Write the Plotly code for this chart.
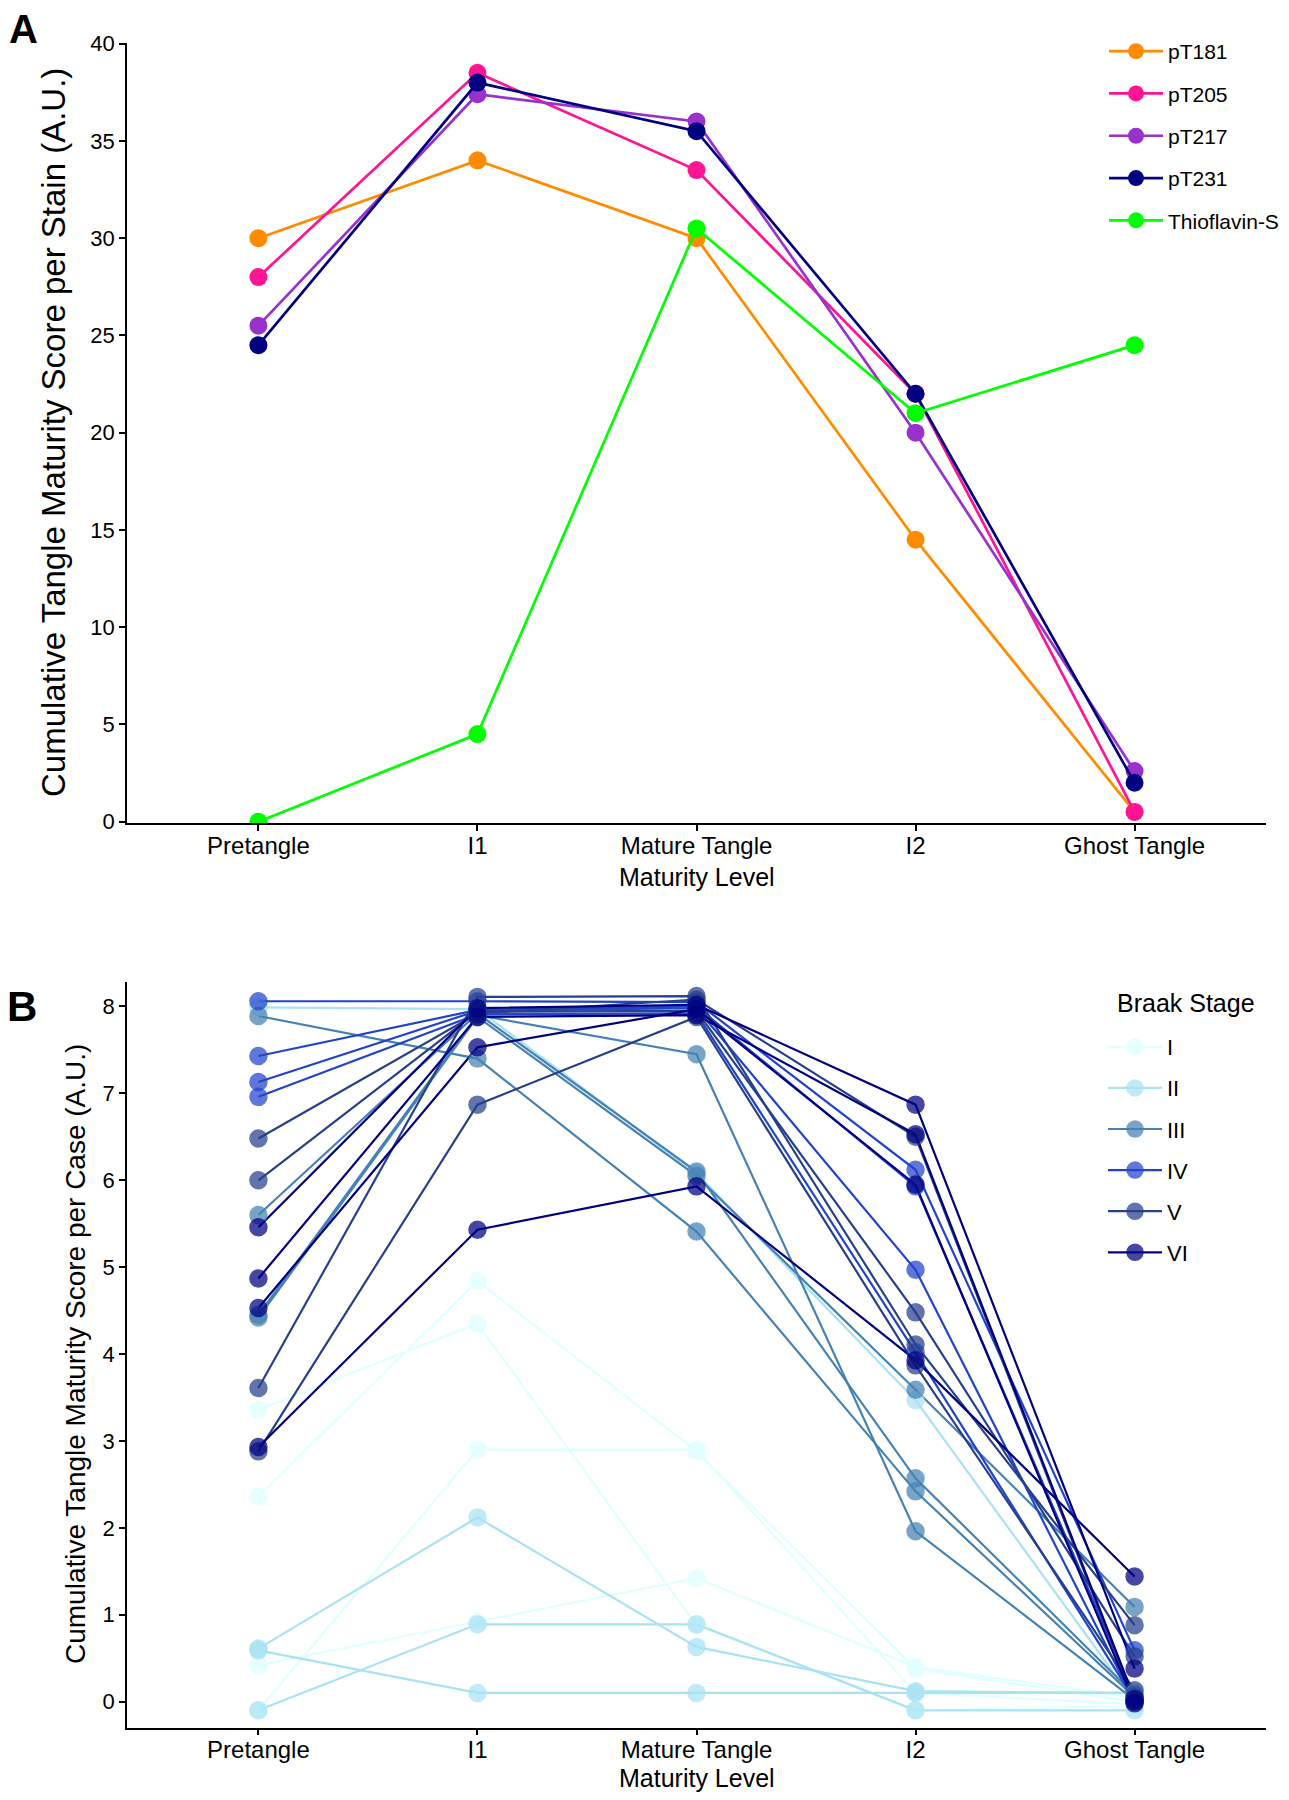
import plotly.graph_objects as go

# ---------------- data ----------------
levels = ["Pretangle", "I1", "Mature Tangle", "I2", "Ghost Tangle"]

stains = ["pT181", "pT205", "pT217", "pT231", "Thioflavin-S"]
pT181 = [30.0, 34.0, 30.0, 14.5, 0.5]
pT205 = [28.0, 38.5, 33.5, 22.0, 0.5]
pT217 = [25.5, 37.4, 36.0, 20.0, 2.6]
pT231 = [24.5, 38.0, 35.5, 22.0, 2.0]
thioflavin_s = [0.0, 4.5, 30.5, 21.0, 24.5]
stain_colors = ["#FF8C00", "#FF1493", "#9932CC", "#000080", "#00FF00"]

braak_stages = ["I", "II", "III", "IV", "V", "VI"]
braak_colors = ["#E0FFFF", "#A9E2F3", "#4682B4", "#2244CC", "#27408B", "#000080"]

case_stage = ["I", "I", "I", "I",
              "II", "II", "II", "II",
              "III", "III", "III", "III",
              "IV", "IV", "IV", "IV",
              "V", "V", "V", "V",
              "VI", "VI", "VI", "VI"]
case_pretangle = [3.36, 2.36, 0.42, -0.10,
                  7.99, 0.61, 0.59, -0.10,
                  7.89, 5.60, 4.45, 4.42,
                  8.06, 7.43, 7.13, 6.96,
                  6.48, 6.00, 3.61, 2.88,
                  5.46, 4.87, 4.53, 2.93]
case_i1 = [4.35, 4.84, 0.92, 2.90,
           7.97, 2.12, 0.10, 0.89,
           7.40, 7.92, 7.90, 7.88,
           8.06, 7.96, 7.95, 7.91,
           7.92, 7.94, 8.11, 6.87,
           7.98, 7.88, 7.53, 5.43]
case_mature = [0.88, 2.88, 1.42, 2.90,
               6.08, 0.63, 0.10, 0.89,
               5.41, 6.10, 7.45, 6.05,
               8.05, 8.00, 7.98, 7.92,
               8.08, 7.95, 8.12, 7.88,
               8.02, 7.90, 7.97, 5.93]
case_i2 = [-0.10, 0.38, 0.40, 0.10,
           3.47, 0.12, 0.10, -0.10,
           2.42, 2.57, 1.96, 3.59,
           6.12, 5.93, 4.97, 4.02,
           6.50, 4.48, 4.11, 3.87,
           6.87, 6.53, 5.95, 3.93]
case_ghost = [-0.05, 0.00, 0.05, -0.03,
              0.00, 0.10, 0.10, -0.10,
              0.05, 0.08, 0.02, 1.09,
              0.59, 0.05, 0.00, 0.02,
              0.00, 0.52, 0.88, 0.13,
              0.38, 0.03, -0.02, 1.44]

# ---------------- geometry (figure px; page has 8px body margin) ----------------
W, H = 1273, 1784
FONT = "Liberation Sans, Arial, Helvetica, sans-serif"


def px_x(p):
    return p / W


def px_y(p):
    return 1 - p / H


fig = go.Figure()

# Panel A
stain_values = [pT181, pT205, pT217, pT231, thioflavin_s]
for name, vals, col in zip(stains, stain_values, stain_colors):
    fig.add_trace(go.Scatter(
        x=levels, y=vals, mode="lines+markers", name=name,
        line=dict(color=col, width=2.7),
        marker=dict(color=col, size=18),
        xaxis="x", yaxis="y", legend="legend", legendgroup=name,
        hoverinfo="skip"))

# Panel B: lines first, then points
stage_color = dict(zip(braak_stages, braak_colors))
cases = list(zip(case_stage, case_pretangle, case_i1, case_mature, case_i2, case_ghost))
for st, *vals in cases:
    fig.add_trace(go.Scatter(
        x=levels, y=vals, mode="lines", showlegend=False,
        line=dict(color=stage_color[st], width=2.2),
        xaxis="x2", yaxis="y2", hoverinfo="skip"))
for st, *vals in cases:
    fig.add_trace(go.Scatter(
        x=levels, y=vals, mode="markers", showlegend=False,
        marker=dict(color=stage_color[st], size=17, opacity=0.72,
                    line=dict(color=stage_color[st], width=1.5)),
        xaxis="x2", yaxis="y2", hoverinfo="skip"))
# legend entries for Braak stage
for st in braak_stages:
    fig.add_trace(go.Scatter(
        x=[None], y=[None], mode="lines+markers", name=st,
        line=dict(color=stage_color[st], width=2.2),
        marker=dict(color=stage_color[st], size=17, opacity=0.72,
                    line=dict(color=stage_color[st], width=1.5)),
        xaxis="x2", yaxis="y2", legend="legend2", legendgroup=st,
        hoverinfo="skip"))

xdom = [px_x(119), px_x(1258)]
axis_common = dict(showline=True, linecolor="black", linewidth=1.5,
                   ticks="outside", ticklen=6, tickwidth=1.5, tickcolor="black",
                   showgrid=False, zeroline=False, automargin=False)

fig.update_layout(
    template="none",
    width=W, height=H,
    margin=dict(l=0, r=0, t=0, b=0, pad=0, autoexpand=False),
    paper_bgcolor="white", plot_bgcolor="white",
    font=dict(family=FONT, color="black"),
    xaxis=dict(domain=xdom, anchor="y", type="category", range=[-0.6, 4.6],
               tickfont=dict(size=24), ticklabelstandoff=-6, **axis_common),
    yaxis=dict(domain=[px_y(815), px_y(34.7)], anchor="x", range=[-0.07, 40.05],
               tickvals=[0, 5, 10, 15, 20, 25, 30, 35, 40],
               tickfont=dict(size=22), **axis_common),
    xaxis2=dict(domain=xdom, anchor="y2", type="category", range=[-0.6, 4.6],
                tickfont=dict(size=24), ticklabelstandoff=-6, **axis_common),
    yaxis2=dict(domain=[px_y(1719.7), px_y(973.7)], anchor="x2", range=[-0.30, 8.285],
                tickvals=[0, 1, 2, 3, 4, 5, 6, 7, 8],
                tickfont=dict(size=22), **axis_common),
    legend=dict(x=px_x(1096), y=px_y(23), xanchor="left", yanchor="top",
                font=dict(size=21), tracegroupgap=12, bgcolor="rgba(0,0,0,0)",
                itemsizing="trace", itemwidth=54, borderwidth=0),
    legend2=dict(x=px_x(1095), y=px_y(1018), xanchor="left", yanchor="top",
                 font=dict(size=22), tracegroupgap=9.5, bgcolor="rgba(0,0,0,0)",
                 itemsizing="trace", itemwidth=54, borderwidth=0),
    showlegend=True,
)

annotations = [
    dict(text="Cumulative Tangle Maturity Score per Stain (A.U.)", x=px_x(46), y=px_y(425),
         textangle=-90, font=dict(size=33)),
    dict(text="Cumulative Tangle Maturity Score per Case (A.U.)", x=px_x(67), y=px_y(1346),
         textangle=-90, font=dict(size=28)),
    dict(text="Maturity Level", x=px_x(688.5), y=px_y(869), font=dict(size=25)),
    dict(text="Maturity Level", x=px_x(688.5), y=px_y(1770), font=dict(size=25)),
    dict(text="<b>A</b>", x=px_x(15.5), y=px_y(21), font=dict(size=40)),
    dict(text="<b>B</b>", x=px_x(14), y=px_y(998), font=dict(size=42)),
    dict(text="Braak Stage", x=px_x(1107), y=px_y(995), xanchor="left", font=dict(size=25)),
]
for a in annotations:
    a.setdefault("xanchor", "center")
    a.update(xref="paper", yref="paper", yanchor="middle", showarrow=False)
fig.update_layout(annotations=annotations)

fig.write_html("out.html")
